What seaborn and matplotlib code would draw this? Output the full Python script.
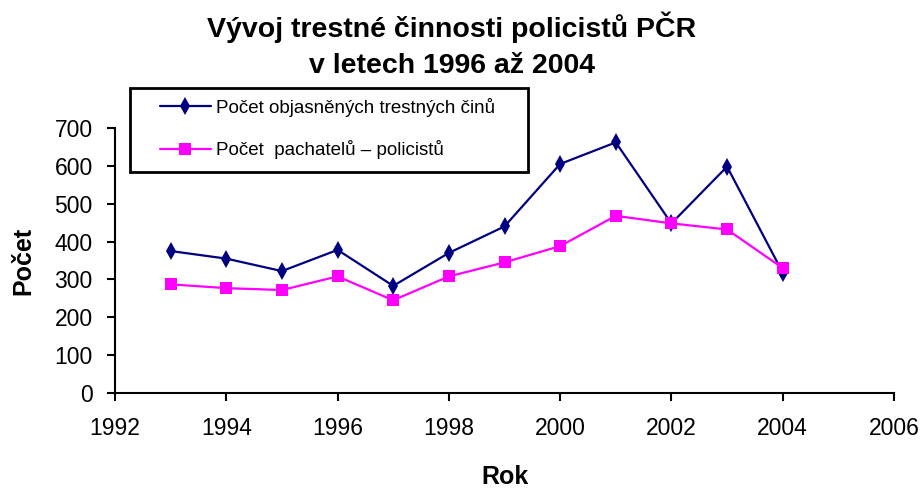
import matplotlib
matplotlib.use("Agg")
import matplotlib.pyplot as plt
from matplotlib.patches import Rectangle
import seaborn as sns
import pandas as pd

years = [1993, 1994, 1995, 1996, 1997, 1998, 1999, 2000, 2001, 2002, 2003, 2004]
objasnene = [375, 355, 322, 378, 283, 370, 440, 605, 662, 448, 598, 318]
pachatele = [287, 277, 272, 308, 245, 308, 345, 388, 468, 448, 432, 330]
labels = ["Počet objasněných trestných činů", "Počet  pachatelů – policistů"]

sns.set_style("white")
plt.rcParams["font.family"] = ["Liberation Sans", "DejaVu Sans"]
plt.rcParams["text.color"] = "black"

df = pd.DataFrame({"Rok": years, labels[0]: objasnene, labels[1]: pachatele})
long = df.melt(id_vars="Rok", var_name="serie", value_name="Počet")

W, H = 921, 488
fig = plt.figure(figsize=(W / 100, H / 100), dpi=100)
ax = fig.add_axes([115 / W, 1 - 393 / H, (894 - 115) / W, (393 - 128) / H])

sns.lineplot(data=long, x="Rok", y="Počet", hue="serie", style="serie",
             palette=["#000080", "#ff00ff"], markers=["d", "s"], dashes=False,
             markersize=9, linewidth=1.6, markeredgewidth=0, ax=ax)

ax.set_xlim(1992, 2006)
ax.set_ylim(0, 700)
ax.set_xticks(range(1992, 2007, 2))
ax.set_yticks(range(0, 701, 100))
ax.tick_params(axis="both", labelsize=16.5, direction="out", length=5.5, width=1.5,
               left=True, bottom=True, colors="black")
ax.tick_params(axis="x", pad=12)
ax.tick_params(axis="y", pad=10.5)
for s in ["top", "right"]:
    ax.spines[s].set_visible(False)
for s in ["left", "bottom"]:
    ax.spines[s].set_color("black")
    ax.spines[s].set_linewidth(1.5)
ax.set_xlabel("Rok", fontsize=18, fontweight="bold", labelpad=18, color="black")
ax.set_ylabel("Počet", fontsize=18, fontweight="bold", labelpad=14, color="black")

fig.text(452 / W, 1 - 37 / H, "Vývoj trestné činnosti policistů PČR",
         fontsize=20.5, fontweight="bold", ha="center", va="baseline")
fig.text(452 / W, 1 - 73 / H, "v letech 1996 až 2004",
         fontsize=20.5, fontweight="bold", ha="center", va="baseline")

# legend frame drawn as its own box, legend itself without frame
box = Rectangle((130 / W, 1 - 172 / H), (528 - 130) / W, (172 - 88) / H,
                transform=fig.transFigure, facecolor="white", edgecolor="black",
                linewidth=2, zorder=4, clip_on=False)
ax.add_artist(box)

handles, _ = ax.get_legend_handles_labels()
leg = ax.legend(handles, labels, loc="upper left", bbox_to_anchor=(160 / W, 1 - 98 / H),
                bbox_transform=fig.transFigure, fontsize=13.5, frameon=False,
                borderpad=0, borderaxespad=0, labelspacing=1.25, handlelength=2.7,
                handletextpad=0.3)
leg.set_zorder(6)

fig.savefig("out.png", dpi=100)
